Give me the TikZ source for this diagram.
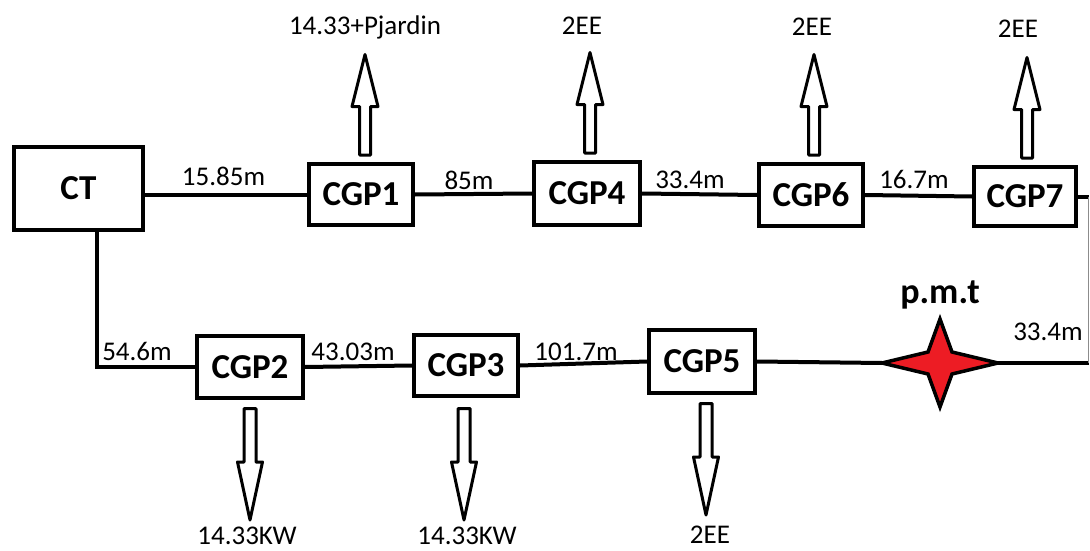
\documentclass[tikz,border=0pt]{standalone}
\usepackage{fontspec}
\setmainfont{Carlito}
\usetikzlibrary{calc}
\definecolor{starred}{HTML}{ED1C24}
\tikzset{
  box/.style={draw, line width=4pt, inner sep=0pt, font=\fontsize{35}{40}\selectfont\bfseries},
  wire/.style={line width=4pt},
  lbl/.style={font=\fontsize{27}{32}\selectfont, inner sep=0pt, anchor=base},
  blockarr/.style={draw, fill=white, line width=3pt, line join=round},
  starshape/.style={draw, fill=starred, line width=3.5pt, line join=miter},
  uparr/.pic={\path[blockarr] (-5.5,-1.5) -- (-5.5,-50) -- (-13,-50) -- (0,-102) -- (13,-50) -- (5.5,-50) -- (5.5,-1.5) -- cycle;},
  downarr/.pic={\path[blockarr] (-6,1.5) -- (-6,55) -- (-12.5,55) -- (0,113) -- (12.5,55) -- (6,55) -- (6,1.5) -- cycle;}
}
\begin{document}
\begin{tikzpicture}[x=1pt,y=-1pt]
\useasboundingbox (0,0) rectangle (1090,551);

% boxes
\node[box, minimum width=129pt, minimum height=83pt] (CT) at (78.5,188.5) {CT};
\node[box, minimum width=104pt, minimum height=61pt] (CGP1) at (361,194.5) {CGP1};
\node[box, minimum width=106pt, minimum height=63pt] (CGP4) at (587,193.5) {CGP4};
\node[box, minimum width=104pt, minimum height=62pt] (CGP6) at (811,195) {CGP6};
\node[box, minimum width=102pt, minimum height=59pt] (CGP7) at (1025,196.5) {CGP7};
\node[box, minimum width=106pt, minimum height=62pt] (CGP2) at (250,367) {CGP2};
\node[box, minimum width=104pt, minimum height=61pt] (CGP3) at (466,365.5) {CGP3};
\node[box, minimum width=106pt, minimum height=63pt] (CGP5) at (702,361.5) {CGP5};

% star point
\coordinate (pmt) at (940,363);
\coordinate (starL) at ($(pmt)+(-58,0)$);
\coordinate (starR) at ($(pmt)+(58,0)$);
\coordinate (rc) at (1088.5,363);

% connectors
\draw[wire] (CT.east |- CGP1.west) -- (CGP1.west);
\draw[wire] (CGP1.east) -- (CGP4.west);
\draw[wire] (CGP4.east) -- (CGP6.west);
\draw[wire] (CGP6.east) -- (CGP7.west);
\draw[wire] ([xshift=18.5pt]CT.south) |- (CGP2.west);
\draw[wire] (CGP2.east) -- (CGP3.west);
\draw[wire] (CGP3.east) -- (CGP5.west);
\draw[wire] (CGP5.east) -- (starL);
\draw[wire] (starR) -- (rc);
\draw[wire] (CGP7.east) -- (CGP7.east -| rc);
\draw[line width=1.5pt, black!45] (CGP7.east -| rc) -- (rc);

% star
\begin{scope}[shift={(pmt)}]
\path[starshape] (0,-44) -- (12,-11) -- (58,0) -- (12,11) -- (0,44) -- (-12,11) -- (-58,0) -- (-12,-11) -- cycle;
\end{scope}
\node[font=\fontsize{36}{40}\selectfont\bfseries, inner sep=0pt, anchor=base] (pmtlabel) at (940,303) {p.m.t};

% block arrows
\pic at ([shift={(4,-5.5)}]CGP1.north) {uparr};
\pic at ([shift={(3,-5.5)}]CGP4.north) {uparr};
\pic at ([shift={(3,-5.5)}]CGP6.north) {uparr};
\pic at ([shift={(2,-5.5)}]CGP7.north) {uparr};
\pic at ([shift={(0,7)}]CGP2.south) {downarr};
\pic at ([shift={(-2,9)}]CGP3.south) {downarr};
\pic at ([shift={(4,7)}]CGP5.south) {downarr};

% distance labels
\node[lbl] (l1) at (223.5,185) {15.85m};
\node[lbl] (l2) at (469,189) {85m};
\node[lbl] (l3) at (690,188) {33.4m};
\node[lbl] (l4) at (914,188) {16.7m};
\node[lbl] (l5) at (1048,340) {33.4m};
\node[lbl] (l6) at (137,360) {54.6m};
\node[lbl] (l7) at (353,360) {43.03m};
\node[lbl] (l8) at (576,360) {101.7m};

% load labels
\node[lbl] (t1) at (365,35) {14.33+Pjardin};
\node[lbl] (t2) at (582,35) {2EE};
\node[lbl] (t3) at (812,36) {2EE};
\node[lbl] (t4) at (1018,38) {2EE};
\node[lbl] (b1) at (247,544) {14.33KW};
\node[lbl] (b2) at (467,544) {14.33KW};
\node[lbl] (b3) at (710,543) {2EE};
\end{tikzpicture}
\end{document}
